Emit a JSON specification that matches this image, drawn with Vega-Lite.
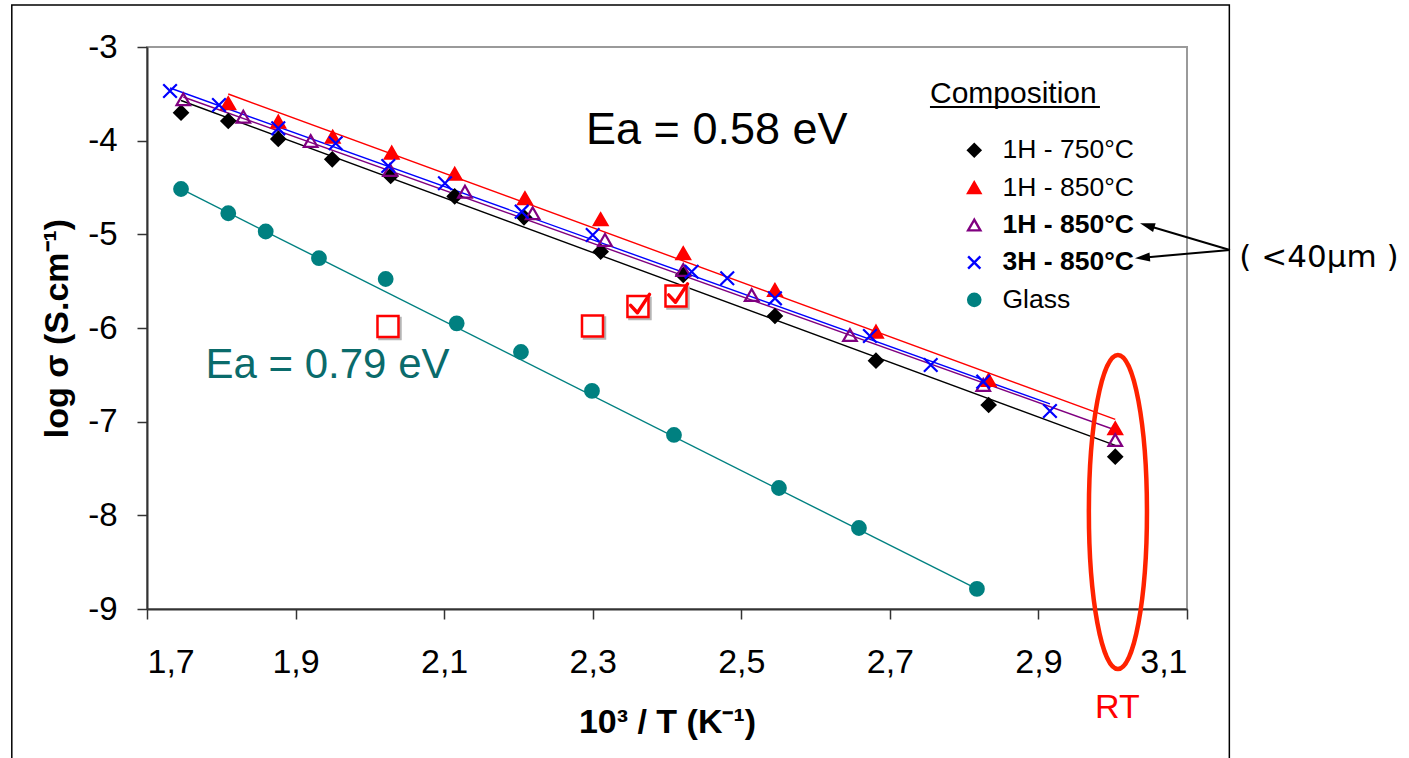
{
  "$schema": "https://vega.github.io/schema/vega-lite/v6.json",
  "autosize": {"type": "none"},
  "padding": {"left": 147, "top": 47, "right": 222, "bottom": 149},
  "width": 1040,
  "height": 562,
  "background": "white",
  "config": {
    "font": "Liberation Sans",
    "view": {"stroke": "#9a9a9a", "strokeWidth": 2},
    "axis": {"domainColor": "#333333", "domainWidth": 2, "tickColor": "#333333", "tickWidth": 1.5, "tickSize": 10, "labelColor": "black", "titleColor": "black", "grid": false, "labelFont": "Liberation Sans", "titleFont": "Liberation Sans"},
    "legend": {"orient": "none", "legendX": 814, "legendY": 90, "padding": 0, "labelFontSize": 26.5, "labelColor": "black", "labelOffset": 15, "labelLimit": 400, "rowPadding": 10.4, "symbolSize": 150, "symbolStrokeWidth": 2.4, "labelFont": "Liberation Sans"}
  },
  "datasets": {
    "points": [
      {"series": "1H - 750°C", "x": 1.7458, "y": -3.701},
      {"series": "1H - 750°C", "x": 1.8094, "y": -3.79},
      {"series": "1H - 750°C", "x": 1.8767, "y": -3.982},
      {"series": "1H - 750°C", "x": 1.9494, "y": -4.199},
      {"series": "1H - 750°C", "x": 2.028, "y": -4.377},
      {"series": "1H - 750°C", "x": 2.1142, "y": -4.595},
      {"series": "1H - 750°C", "x": 2.2075, "y": -4.818},
      {"series": "1H - 750°C", "x": 2.3107, "y": -5.185},
      {"series": "1H - 750°C", "x": 2.4219, "y": -5.434},
      {"series": "1H - 750°C", "x": 2.5453, "y": -5.872},
      {"series": "1H - 750°C", "x": 2.6813, "y": -6.349},
      {"series": "1H - 750°C", "x": 2.833, "y": -6.822},
      {"series": "1H - 750°C", "x": 3.0034, "y": -7.374},
      {"series": "1H - 850°C", "x": 1.8094, "y": -3.601},
      {"series": "1H - 850°C", "x": 1.8767, "y": -3.797},
      {"series": "1H - 850°C", "x": 1.95, "y": -3.958},
      {"series": "1H - 850°C", "x": 2.0294, "y": -4.128},
      {"series": "1H - 850°C", "x": 2.1142, "y": -4.354},
      {"series": "1H - 850°C", "x": 2.2088, "y": -4.615},
      {"series": "1H - 850°C", "x": 2.3107, "y": -4.839},
      {"series": "1H - 850°C", "x": 2.4219, "y": -5.202},
      {"series": "1H - 850°C", "x": 2.5453, "y": -5.594},
      {"series": "1H - 850°C", "x": 2.6813, "y": -6.039},
      {"series": "1H - 850°C", "x": 2.833, "y": -6.555},
      {"series": "1H - 850°C", "x": 3.0034, "y": -7.071},
      {"series": "1H - 850°C (<40µm)", "x": 1.7489, "y": -3.558},
      {"series": "1H - 850°C (<40µm)", "x": 1.8296, "y": -3.744},
      {"series": "1H - 850°C (<40µm)", "x": 1.9204, "y": -4.004},
      {"series": "1H - 850°C (<40µm)", "x": 2.0271, "y": -4.313},
      {"series": "1H - 850°C (<40µm)", "x": 2.128, "y": -4.545},
      {"series": "1H - 850°C (<40µm)", "x": 2.2192, "y": -4.775},
      {"series": "1H - 850°C (<40µm)", "x": 2.3165, "y": -5.06},
      {"series": "1H - 850°C (<40µm)", "x": 2.4219, "y": -5.381},
      {"series": "1H - 850°C (<40µm)", "x": 2.514, "y": -5.648},
      {"series": "1H - 850°C (<40µm)", "x": 2.6463, "y": -6.075},
      {"series": "1H - 850°C (<40µm)", "x": 2.8257, "y": -6.608},
      {"series": "1H - 850°C (<40µm)", "x": 3.0034, "y": -7.196},
      {"series": "3H - 850°C (<40µm)", "x": 1.731, "y": -3.47},
      {"series": "3H - 850°C (<40µm)", "x": 1.7969, "y": -3.619},
      {"series": "3H - 850°C (<40µm)", "x": 1.8767, "y": -3.868},
      {"series": "3H - 850°C (<40µm)", "x": 1.954, "y": -4.028},
      {"series": "3H - 850°C (<40µm)", "x": 2.0248, "y": -4.27},
      {"series": "3H - 850°C (<40µm)", "x": 2.1011, "y": -4.455},
      {"series": "3H - 850°C (<40µm)", "x": 2.2044, "y": -4.758},
      {"series": "3H - 850°C (<40µm)", "x": 2.3, "y": -5.007},
      {"series": "3H - 850°C (<40µm)", "x": 2.4332, "y": -5.399},
      {"series": "3H - 850°C (<40µm)", "x": 2.4811, "y": -5.469},
      {"series": "3H - 850°C (<40µm)", "x": 2.5453, "y": -5.683},
      {"series": "3H - 850°C (<40µm)", "x": 2.6732, "y": -6.085},
      {"series": "3H - 850°C (<40µm)", "x": 2.755, "y": -6.395},
      {"series": "3H - 850°C (<40µm)", "x": 2.8257, "y": -6.573},
      {"series": "3H - 850°C (<40µm)", "x": 2.9155, "y": -6.886},
      {"series": "Glass", "x": 1.7458, "y": -4.516},
      {"series": "Glass", "x": 1.8094, "y": -4.775},
      {"series": "Glass", "x": 1.8598, "y": -4.97},
      {"series": "Glass", "x": 1.9315, "y": -5.255},
      {"series": "Glass", "x": 2.0213, "y": -5.477},
      {"series": "Glass", "x": 2.1169, "y": -5.95},
      {"series": "Glass", "x": 2.2034, "y": -6.256},
      {"series": "Glass", "x": 2.299, "y": -6.672},
      {"series": "Glass", "x": 2.4094, "y": -7.142},
      {"series": "Glass", "x": 2.5507, "y": -7.708},
      {"series": "Glass", "x": 2.6584, "y": -8.135},
      {"series": "Glass", "x": 2.8172, "y": -8.786}
    ],
    "trends": [
      {"series": "1H - 750°C", "x": 1.7458, "y": -3.571},
      {"series": "1H - 750°C", "x": 3.0034, "y": -7.254},
      {"series": "1H - 850°C", "x": 1.8094, "y": -3.502},
      {"series": "1H - 850°C", "x": 3.0034, "y": -6.975},
      {"series": "1H - 850°C (<40µm)", "x": 1.7489, "y": -3.534},
      {"series": "1H - 850°C (<40µm)", "x": 3.0034, "y": -7.089},
      {"series": "3H - 850°C (<40µm)", "x": 1.731, "y": -3.438},
      {"series": "3H - 850°C (<40µm)", "x": 2.9155, "y": -6.811},
      {"series": "Glass", "x": 1.7458, "y": -4.516},
      {"series": "Glass", "x": 2.8172, "y": -8.786}
    ],
    "boxes": [
      {"x": 2.0244, "y": -5.984, "checked": false},
      {"x": 2.2997, "y": -5.979, "checked": false},
      {"x": 2.3609, "y": -5.77, "checked": true},
      {"x": 2.4121, "y": -5.658, "checked": true}
    ]
  },
  "layer": [
    {
      "data": {"values": [{"frame": "chart area"}]},
      "mark": {"type": "rect", "fill": null, "stroke": "black", "strokeWidth": 1.5},
      "encoding": {
        "x": {"datum": 1.518},
        "x2": {"datum": 3.157},
        "y": {"datum": -2.552},
        "y2": {"datum": -10.9}
      }
    },
    {
      "data": {"name": "trends"},
      "mark": {"type": "line", "strokeWidth": 1.4},
      "encoding": {
        "x": {"field": "x", "type": "quantitative"},
        "y": {"field": "y", "type": "quantitative"},
        "stroke": {"field": "series", "type": "nominal",
          "legend": {"title": null, "labelExpr": "replace(datum.label, ' (<40µm)', '')",
            "labelFontWeight": {"expr": "indexof(datum.value, '<40') >= 0 ? 'bold' : 'normal'"}}}
      }
    },
    {
      "data": {"name": "boxes"},
      "mark": {"type": "point", "shape": "square", "size": 441, "filled": false, "stroke": "#b5b5b5", "strokeWidth": 2.5, "opacity": 1, "xOffset": 2, "yOffset": 2},
      "encoding": {
        "x": {"field": "x", "type": "quantitative"},
        "y": {"field": "y", "type": "quantitative"}
      }
    },
    {
      "data": {"name": "boxes"},
      "mark": {"type": "point", "shape": "square", "size": 441, "filled": false, "stroke": "#ff0000", "strokeWidth": 2.5, "opacity": 1, "fill": "white", "fillOpacity": 1},
      "encoding": {
        "x": {"field": "x", "type": "quantitative"},
        "y": {"field": "y", "type": "quantitative"}
      }
    },
    {
      "data": {"name": "boxes"},
      "transform": [{"filter": "datum.checked"}],
      "mark": {"type": "point", "shape": "M -0.7 -0.1 L -0.05 0.6 L 1.1 -1.15", "size": 441, "filled": false, "opacity": 1, "stroke": "#ff0000", "strokeWidth": 3.5, "strokeJoin": "round", "strokeCap": "round"},
      "encoding": {
        "x": {"field": "x", "type": "quantitative"},
        "y": {"field": "y", "type": "quantitative"}
      }
    },
    {
      "data": {"name": "points"},
      "mark": {"type": "point", "strokeWidth": 2.2, "opacity": 1, "size": 185},
      "encoding": {
        "x": {"field": "x", "type": "quantitative",
          "scale": {"domain": [1.7, 3.1], "nice": false, "zero": false},
          "axis": {"values": [1.7, 1.9, 2.1, 2.3, 2.5, 2.7, 2.9, 3.1],
                   "labelExpr": "replace(format(datum.value, '.1f'), '.', ',')",
                   "labelFontSize": 34, "labelPadding": 26,
                   "title": "10³ / T (K⁻¹)", "titleFontSize": 34, "titleFontWeight": "bold",
                   "titleBaseline": "alphabetic", "titleY": 123, "titleX": 520}},
        "y": {"field": "y", "type": "quantitative",
          "scale": {"domain": [-9, -3], "nice": false, "zero": false},
          "axis": {"values": [-9, -8, -7, -6, -5, -4, -3],
                   "labelExpr": "'' + datum.value",
                   "labelFontSize": 33, "labelPadding": 20,
                   "title": "log σ (S.cm⁻¹)", "titleFontSize": 34, "titleFontWeight": "bold",
                   "titleAngle": 270, "titleBaseline": "alphabetic", "titleAlign": "center", "titleX": -80, "titleY": 281}},
        "shape": {"field": "series", "type": "nominal",
          "scale": {"domain": ["1H - 750°C", "1H - 850°C", "1H - 850°C (<40µm)", "3H - 850°C (<40µm)", "Glass"],
                    "range": ["diamond", "triangle-up", "triangle-up", "M -1 -1 L 1 1 M -1 1 L 1 -1", "circle"]},
          "legend": {"title": null, "labelExpr": "replace(datum.label, ' (<40µm)', '')",
            "labelFontWeight": {"expr": "indexof(datum.value, '<40') >= 0 ? 'bold' : 'normal'"}}},
        "fill": {"field": "series", "type": "nominal",
          "scale": {"domain": ["1H - 750°C", "1H - 850°C", "1H - 850°C (<40µm)", "3H - 850°C (<40µm)", "Glass"],
                    "range": ["#000000", "#ff0000", "transparent", "transparent", "#008080"]},
          "legend": {"title": null, "labelExpr": "replace(datum.label, ' (<40µm)', '')",
            "labelFontWeight": {"expr": "indexof(datum.value, '<40') >= 0 ? 'bold' : 'normal'"}}},
        "stroke": {"field": "series", "type": "nominal",
          "scale": {"domain": ["1H - 750°C", "1H - 850°C", "1H - 850°C (<40µm)", "3H - 850°C (<40µm)", "Glass"],
                    "range": ["#000000", "#ff0000", "#800080", "#0000ff", "#008080"]},
          "legend": {"title": null, "labelExpr": "replace(datum.label, ' (<40µm)', '')",
            "labelFontWeight": {"expr": "indexof(datum.value, '<40') >= 0 ? 'bold' : 'normal'"}}}
      }
    },
    {
      "data": {"values": [{"group": "RT"}]},
      "mark": {"type": "point", "shape": "M 0 -1 A 0.185 1 0 1 0 0 1 A 0.185 1 0 1 0 0 -1 Z", "size": 98596, "filled": false, "opacity": 1, "stroke": "#ff2200", "strokeWidth": 4.5},
      "encoding": {"x": {"datum": 3.007}, "y": {"datum": -7.964}}
    },
    {
      "data": {"values": [{"label": "Composition"}]},
      "mark": {"type": "text", "fontSize": 30, "align": "left", "baseline": "alphabetic", "color": "black"},
      "encoding": {"x": {"datum": 2.754}, "y": {"datum": -3.598}, "text": {"field": "label"}}
    },
    {
      "data": {"values": [{"underline": "Composition"}]},
      "mark": {"type": "rule", "color": "black", "strokeWidth": 2},
      "encoding": {"x": {"datum": 2.754}, "x2": {"datum": 2.9828}, "y": {"datum": -3.6405}}
    },
    {
      "data": {"values": [{"label": "Ea = 0.58 eV"}]},
      "mark": {"type": "text", "fontSize": 45, "align": "center", "baseline": "alphabetic", "color": "black"},
      "encoding": {"x": {"datum": 2.467}, "y": {"datum": -4.036}, "text": {"field": "label"}}
    },
    {
      "data": {"values": [{"label": "Ea = 0.79 eV"}]},
      "mark": {"type": "text", "fontSize": 42, "align": "center", "baseline": "alphabetic", "color": "#0a6b6b"},
      "encoding": {"x": {"datum": 1.943}, "y": {"datum": -6.534}, "text": {"field": "label"}}
    },
    {
      "data": {"values": [{"label": "RT"}]},
      "mark": {"type": "text", "fontSize": 34, "align": "center", "baseline": "alphabetic", "color": "#ff0000"},
      "encoding": {"x": {"datum": 3.0064}, "y": {"datum": -10.163}, "text": {"field": "label"}}
    },
    {
      "data": {"values": [{"label": "( <40µm )"}]},
      "mark": {"type": "text", "fontSize": 31, "font": "DejaVu Sans", "align": "center", "baseline": "alphabetic", "color": "black"},
      "encoding": {"x": {"datum": 3.2776}, "y": {"datum": -5.349}, "text": {"field": "label"}}
    },
    {
      "data": {"values": [{"arrow": "to 1H - 850°C (<40µm)"}]},
      "mark": {"type": "rule", "color": "black", "strokeWidth": 2},
      "encoding": {"x": {"datum": 3.1578}, "y": {"datum": -5.167}, "x2": {"datum": 3.0464}, "y2": {"datum": -4.905}}
    },
    {
      "data": {"values": [{"arrow": "to 3H - 850°C (<40µm)"}]},
      "mark": {"type": "rule", "color": "black", "strokeWidth": 2},
      "encoding": {"x": {"datum": 3.1578}, "y": {"datum": -5.167}, "x2": {"datum": 3.040}, "y2": {"datum": -5.249}}
    },
    {
      "data": {"values": [{"arrow": "head 1"}]},
      "mark": {"type": "point", "shape": "M -1 0 L 1 -0.6 L 1 0.6 Z", "size": 225, "filled": true, "color": "black", "opacity": 1, "angle": 16.5},
      "encoding": {"x": {"datum": 3.0464}, "y": {"datum": -4.905}}
    },
    {
      "data": {"values": [{"arrow": "head 2"}]},
      "mark": {"type": "point", "shape": "M -1 0 L 1 -0.6 L 1 0.6 Z", "size": 225, "filled": true, "color": "black", "opacity": 1, "angle": -5},
      "encoding": {"x": {"datum": 3.040}, "y": {"datum": -5.249}}
    }
  ]
}
